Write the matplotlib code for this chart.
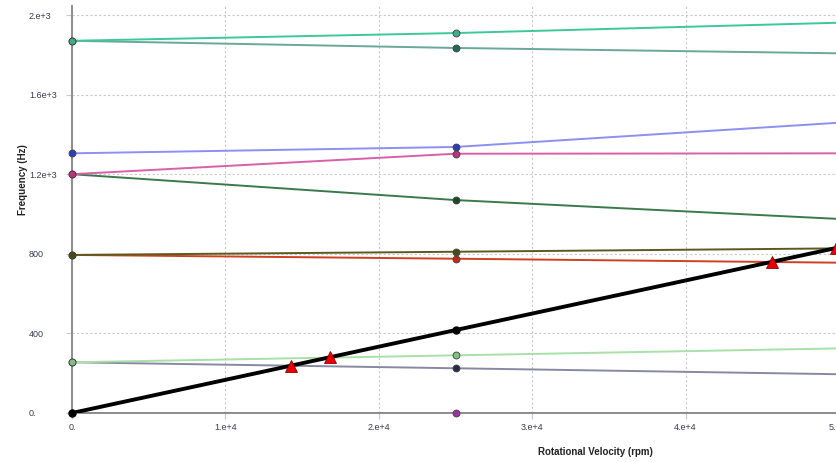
import matplotlib.pyplot as plt

# spin speeds where the modes were solved (rpm)
rpm = [0, 25000, 50000]

# whirl frequencies of each mode (Hz)
mode_1 = [1872, 1911, 1963]
mode_2 = [1872, 1836, 1809]
mode_3 = [1306, 1338, 1460]
mode_4 = [1201, 1304, 1306]
mode_5 = [1201, 1071, 976]
mode_6 = [795, 811, 828]
mode_7 = [795, 776, 756]
mode_8 = [255, 225, 195]
mode_9 = [255, 290, 325]
mode_10 = [0, 0, 0]

# 1x synchronous excitation line
excitation = [0, 417, 833]

# critical speeds (crossings of the 1x line)
crit_rpm = [14300, 16800, 45600, 49800]
crit_freq = [238, 280, 760, 830]

y_ticks = [0, 400, 800, 1200, 1600, 2000]
y_labels = ['0.', '400', '800', '1.2e+3', '1.6e+3', '2.e+3']
x_ticks = [0, 10000, 20000, 30000, 40000, 50000]
x_labels = ['0.', '1.e+4', '2.e+4', '3.e+4', '4.e+4', '5.']

# (values, line colour, marker colour)
modes = [
    (mode_10, '#8c8c8c', '#a030a0'),
    (mode_2, '#6aa898', '#1f6a5a'),
    (mode_1, '#3cc89a', '#3aaf88'),
    (mode_3, '#8c90f0', '#2a3cc0'),
    (mode_5, '#3a7a4a', '#1a4a2a'),
    (mode_4, '#d860a8', '#c03080'),
    (mode_7, '#d04020', '#c02a10'),
    (mode_6, '#5a5a20', '#4a4a18'),
    (mode_8, '#8888a0', '#2a2a4a'),
    (mode_9, '#a8e0a8', '#80c080'),
]

plt.rcParams['font.family'] = ['Liberation Sans', 'DejaVu Sans']

fig = plt.figure(figsize=(8.36, 4.62), dpi=100)
ax = fig.add_axes([72 / 836, 49 / 462, 767 / 836, 407 / 462])

for vals, lc, mc in modes:
    ax.plot(rpm, vals, color=lc, lw=1.4, zorder=3)
    ax.plot(rpm[:2], vals[:2], ls='none', marker='o', ms=5,
            mfc=mc, mec='#404040', mew=0.6, zorder=5, clip_on=False)

ax.plot(rpm, excitation, color='black', lw=2.8, zorder=4)
ax.plot(rpm[:2], excitation[:2], ls='none', marker='o', ms=5,
        mfc='black', mec='black', zorder=5, clip_on=False)

ax.plot(crit_rpm, crit_freq, ls='none', marker='^', ms=9,
        mfc='#e80000', mec='#900000', mew=0.6, zorder=6, clip_on=False)

ax.set_xlim(0, 50000)
ax.set_ylim(0, 2047)
ax.set_xticks(x_ticks)
ax.set_xticklabels(x_labels[:-1] + [''])
ax.set_yticks(y_ticks)
ax.set_yticklabels(y_labels)

ax.grid(color='#c8c8c8', linestyle=(0, (2, 2)), linewidth=0.8, zorder=0)
ax.tick_params(axis='both', length=4, color='#c8c8c8', labelsize=6.5,
               labelcolor='#3a3a50')
ax.tick_params(axis='y', pad=27)
ax.tick_params(axis='x', pad=3)
for lbl in ax.get_yticklabels():
    lbl.set_horizontalalignment('left')

# last x label sits at the figure edge, pull it back inside
ax.annotate(x_labels[-1], xy=(x_ticks[-1], 0), xycoords='data',
            xytext=(-2, -7), textcoords='offset points', ha='right', va='top',
            fontsize=6.5, color='#3a3a50', annotation_clip=False)

for side in ['top', 'right']:
    ax.spines[side].set_visible(False)
for side in ['left', 'bottom']:
    ax.spines[side].set_color('#8c8c8c')
    ax.spines[side].set_linewidth(1.4)
    ax.spines[side].set_zorder(2)

fig.text(22.7 / 836, 1 - 180 / 462, 'Frequency (Hz)', rotation=90,
         ha='center', va='center', fontsize=7, fontweight='bold', color='#222222')
fig.text(595 / 836, 1 - 452 / 462, 'Rotational Velocity (rpm)',
         ha='center', va='center', fontsize=7, fontweight='bold', color='#222222')

fig.savefig('out.png', dpi=100)
